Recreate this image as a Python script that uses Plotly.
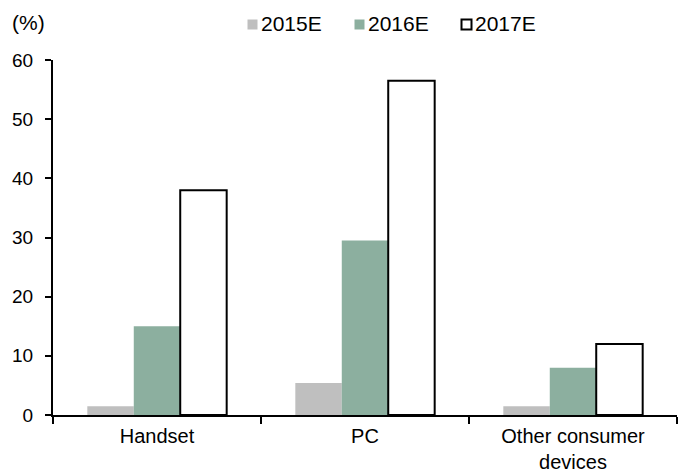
import plotly.graph_objects as go

categories = ["Handset", "PC", "Other consumer<br>devices"]
series_names = ["2015E", "2016E", "2017E"]
values_2015 = [1.5, 5.4, 1.5]
values_2016 = [15.0, 29.5, 8.0]
values_2017 = [38.0, 56.5, 12.0]

FONT = "Liberation Sans, Arial, sans-serif"
W, H = 678, 473
L, R, T, B = 53, 1, 60, 58
PW, PH = W - L - R, H - T - B

fills = ["#BFBFBF", "#8CAF9F", "white"]
outlines = [None, None, "black"]


def px_x(x):
    return (x - L) / PW


def px_y(y):
    return (H - B - y) / PH


fig = go.Figure()
for name, vals, fill, edge in zip(series_names, [values_2015, values_2016, values_2017],
                                  fills, outlines):
    line = dict(color=edge, width=2) if edge else dict(width=0)
    fig.add_trace(go.Bar(name=name, x=categories, y=vals,
                         marker=dict(color=fill, line=line)))

# legend row drawn along the top edge
shapes, annotations = [], []
legend_left = [247, 354, 461]
for name, fill, edge, x0 in zip(series_names, fills, outlines, legend_left):
    shapes.append(dict(type="rect", xref="paper", yref="paper",
                       x0=px_x(x0 + 0.5), x1=px_x(x0 + 10.5),
                       y0=px_y(29.5), y1=px_y(19.5),
                       fillcolor=fill,
                       line=dict(color=edge, width=2) if edge else dict(width=0)))
    annotations.append(dict(text=name, xref="paper", yref="paper",
                            x=px_x(x0 + 12), y=px_y(23.5), xanchor="left",
                            yanchor="middle", showarrow=False,
                            font=dict(size=21)))

annotations.append(dict(text="(%)", xref="paper", yref="paper",
                        x=px_x(10), y=px_y(22.5), xanchor="left", yanchor="middle",
                        showarrow=False, font=dict(size=21)))

fig.update_layout(
    width=W, height=H,
    margin=dict(l=L, r=R, t=T, b=B, autoexpand=False),
    paper_bgcolor="white", plot_bgcolor="white",
    font=dict(family=FONT, size=21, color="black"),
    barmode="group", bargap=0.33, bargroupgap=0,
    showlegend=False,
    shapes=shapes,
    annotations=annotations,
)

fig.update_xaxes(showline=True, linecolor="black", linewidth=2,
                 ticks="outside", tickson="boundaries", ticklen=7, tickwidth=2,
                 tickcolor="black", showgrid=False, zeroline=False,
                 tickfont=dict(size=20), ticklabelstandoff=2, automargin=False)
fig.update_yaxes(range=[0, 60], dtick=10, showline=True, linecolor="black",
                 linewidth=2, ticks="outside", ticklen=6, tickwidth=2,
                 tickcolor="black", showgrid=False, zeroline=False,
                 tickfont=dict(size=19), ticklabelstandoff=8, automargin=False)

fig.write_html("out.html")
